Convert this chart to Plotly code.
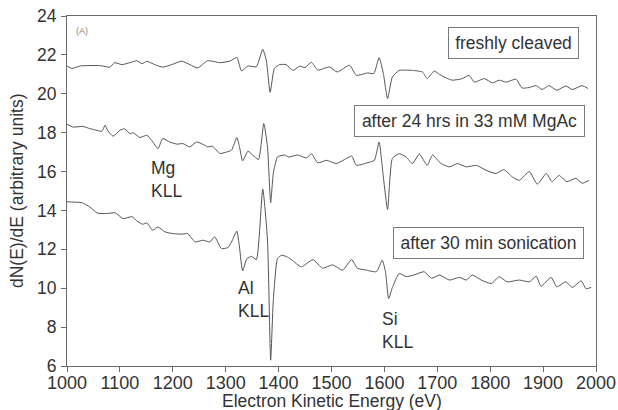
import plotly.graph_objects as go

# ---- data ----
energy_fresh = [1000, 1009, 1025, 1062, 1081, 1090, 1104, 1119, 1132, 1142, 1151, 1166, 1181, 1198,
                1217, 1232, 1247, 1266, 1289, 1308, 1321, 1330, 1342, 1358, 1370, 1377, 1384, 1392,
                1402, 1414, 1427, 1440, 1450, 1462, 1474, 1496, 1511, 1534, 1547, 1568, 1580, 1590,
                1598, 1606, 1615, 1628, 1653, 1672, 1681, 1694, 1707, 1728, 1747, 1760, 1770, 1789,
                1804, 1817, 1830, 1849, 1860, 1874, 1887, 1898, 1911, 1926, 1943, 1955, 1974, 1985]
signal_fresh = [21.43, 21.30, 21.43, 21.45, 21.37, 21.60, 21.50, 21.60, 21.70, 21.55, 21.67, 21.50, 21.37, 21.50,
                21.68, 21.50, 21.33, 21.70, 21.60, 21.68, 21.87, 21.17, 21.43, 21.39, 22.29, 21.68, 20.07, 21.30,
                21.50, 21.50, 21.20, 21.42, 21.35, 21.62, 21.22, 21.38, 21.12, 21.47, 20.95, 21.07, 21.04, 21.86,
                21.04, 19.75, 20.86, 21.20, 21.20, 21.12, 20.78, 21.17, 20.95, 20.70, 20.78, 20.95, 20.60, 20.78,
                20.56, 20.70, 20.60, 20.75, 20.30, 20.32, 20.42, 20.22, 20.42, 20.18, 20.40, 20.22, 20.42, 20.27]

energy_mgac = [1000, 1011, 1030, 1043, 1057, 1066, 1072, 1077, 1087, 1100, 1109, 1119, 1125, 1138,
               1151, 1160, 1172, 1181, 1194, 1208, 1219, 1232, 1245, 1257, 1266, 1275, 1289, 1301,
               1311, 1321, 1326, 1332, 1342, 1351, 1362, 1372, 1379, 1385, 1390, 1398, 1411, 1419,
               1436, 1453, 1462, 1474, 1491, 1509, 1528, 1538, 1547, 1566, 1581, 1590, 1598, 1606,
               1615, 1628, 1641, 1653, 1666, 1681, 1691, 1707, 1723, 1738, 1755, 1774, 1792, 1811,
               1826, 1842, 1855, 1874, 1889, 1906, 1917, 1930, 1945, 1962, 1974, 1987]
signal_mgac = [18.43, 18.29, 18.32, 18.21, 18.12, 18.07, 18.38, 18.10, 17.82, 18.12, 18.20, 17.95, 18.00, 17.75,
               17.87, 17.60, 17.18, 17.70, 17.52, 17.41, 17.44, 17.27, 17.52, 17.40, 17.27, 17.30, 16.93, 17.00,
               17.10, 17.75, 17.28, 16.55, 17.05, 16.85, 16.62, 18.47, 17.27, 14.40, 15.90, 16.75, 16.85, 16.75,
               16.85, 16.70, 16.92, 16.45, 16.58, 16.41, 16.67, 16.80, 16.32, 16.44, 16.58, 17.52, 15.72, 14.05,
               16.67, 16.92, 16.75, 16.41, 16.90, 16.32, 16.85, 16.41, 16.24, 16.41, 16.24, 16.32, 16.07, 15.90,
               16.10, 15.72, 15.55, 16.00, 15.35, 15.90, 15.48, 15.80, 15.48, 15.65, 15.40, 15.55]

energy_sonic = [1000, 1009, 1028, 1043, 1057, 1075, 1091, 1106, 1123, 1132, 1143, 1151, 1162, 1172,
                1185, 1200, 1217, 1228, 1242, 1257, 1270, 1279, 1292, 1304, 1311, 1321, 1326, 1332,
                1340, 1349, 1358, 1370, 1379, 1385, 1390, 1398, 1406, 1417, 1425, 1443, 1465, 1483,
                1502, 1521, 1538, 1549, 1566, 1585, 1596, 1602, 1608, 1615, 1628, 1641, 1656, 1675,
                1689, 1704, 1723, 1742, 1755, 1766, 1783, 1802, 1817, 1832, 1855, 1874, 1887, 1896,
                1915, 1926, 1943, 1955, 1972, 1981, 1991]
signal_sonic = [14.45, 14.43, 14.40, 14.18, 13.87, 13.84, 13.88, 13.58, 13.68, 13.46, 13.29, 13.36, 12.98, 13.15,
                12.90, 12.81, 12.78, 12.81, 12.38, 12.47, 12.38, 12.64, 12.04, 12.09, 12.38, 12.94, 12.12, 10.89,
                11.52, 11.64, 11.47, 15.10, 12.47, 6.30, 9.38, 11.53, 11.70, 11.60, 11.45, 11.10, 11.47, 11.03,
                11.20, 10.93, 11.47, 11.03, 10.93, 10.85, 11.44, 10.85, 9.47, 10.03, 10.76, 10.60, 10.68, 10.85,
                10.51, 10.68, 10.42, 10.56, 10.42, 10.68, 10.42, 10.24, 10.59, 10.33, 10.42, 10.33, 10.62, 10.10,
                10.56, 10.07, 10.33, 10.04, 10.38, 9.98, 10.04]

series_names = ["freshly cleaved", "after 24 hrs in 33 mM MgAc", "after 30 min sonication"]
x_ticks = [1000, 1100, 1200, 1300, 1400, 1500, 1600, 1700, 1800, 1900, 2000]
y_ticks = [6, 8, 10, 12, 14, 16, 18, 20, 22, 24]
x_title = "Electron Kinetic Energy (eV)"
y_title = "dN(E)/dE (arbitrary units)"

FONT = "Liberation Sans, Arial, sans-serif"
LINE = "#555555"
TXT = "#333333"

fig = go.Figure()
for ex, sy, nm in [(energy_fresh, signal_fresh, series_names[0]),
                   (energy_mgac, signal_mgac, series_names[1]),
                   (energy_sonic, signal_sonic, series_names[2])]:
    fig.add_trace(go.Scatter(x=ex, y=sy, mode="lines", name=nm,
                             line=dict(color=LINE, width=1, shape="spline", smoothing=0.5)))

# boxed series labels
box_specs = [(series_names[0], 1844, 22.59, 121), (series_names[1], 1761, 18.61, 221),
             (series_names[2], 1796, 12.31, 181)]
for txt, bx, by, w in box_specs:
    fig.add_annotation(x=bx, y=by, xref="x", yref="y", text=txt, showarrow=False,
                       xanchor="center", yanchor="middle", width=w, height=22, align="center",
                       font=dict(family=FONT, size=17.5, color=TXT),
                       bordercolor="#7a7a7a", borderwidth=1, borderpad=4, bgcolor="rgba(255,255,255,0)")

# peak labels
for txt, lx, ly in [("Mg<br>KLL", 1155, 15.6), ("Al<br>KLL", 1319, 9.44), ("Si<br>KLL", 1591, 7.83)]:
    fig.add_annotation(x=lx, y=ly, xref="x", yref="y", text=txt, showarrow=False,
                       xanchor="left", yanchor="middle", align="left",
                       font=dict(family=FONT, size=17.5, color=TXT))

fig.add_annotation(x=1029, y=23.21, xref="x", yref="y", text="(A)", showarrow=False,
                   xanchor="center", yanchor="middle",
                   font=dict(family=FONT, size=9, color="#8a8a8a"))

# axis titles
fig.add_annotation(x=0.5, y=-0.099, xref="paper", yref="paper", text=x_title, showarrow=False,
                   xanchor="center", yanchor="middle", font=dict(family=FONT, size=17.5, color=TXT))
fig.add_annotation(x=-0.0945, y=0.5, xref="paper", yref="paper", text=y_title, showarrow=False,
                   textangle=-90, xanchor="center", yanchor="middle",
                   font=dict(family=FONT, size=17.5, color=TXT))

axis_common = dict(showgrid=False, zeroline=False, showline=True, linecolor="#6a6a6a", linewidth=1,
                   mirror=True, ticks="outside", ticklen=5, tickcolor="#6a6a6a", tickwidth=1,
                   automargin=False)

fig.update_layout(
    width=618, height=410,
    margin=dict(l=67, r=22, t=16, b=44),
    paper_bgcolor="white", plot_bgcolor="white",
    showlegend=False,
    xaxis=dict(range=[1000, 2000], tickvals=x_ticks, ticklabelstandoff=-5,
               tickfont=dict(family=FONT, size=18, color=TXT), **axis_common),
    yaxis=dict(range=[6, 24], tickvals=y_ticks, ticklabelstandoff=1,
               tickfont=dict(family=FONT, size=17.5, color=TXT), **axis_common),
)

fig.write_html("out.html")
